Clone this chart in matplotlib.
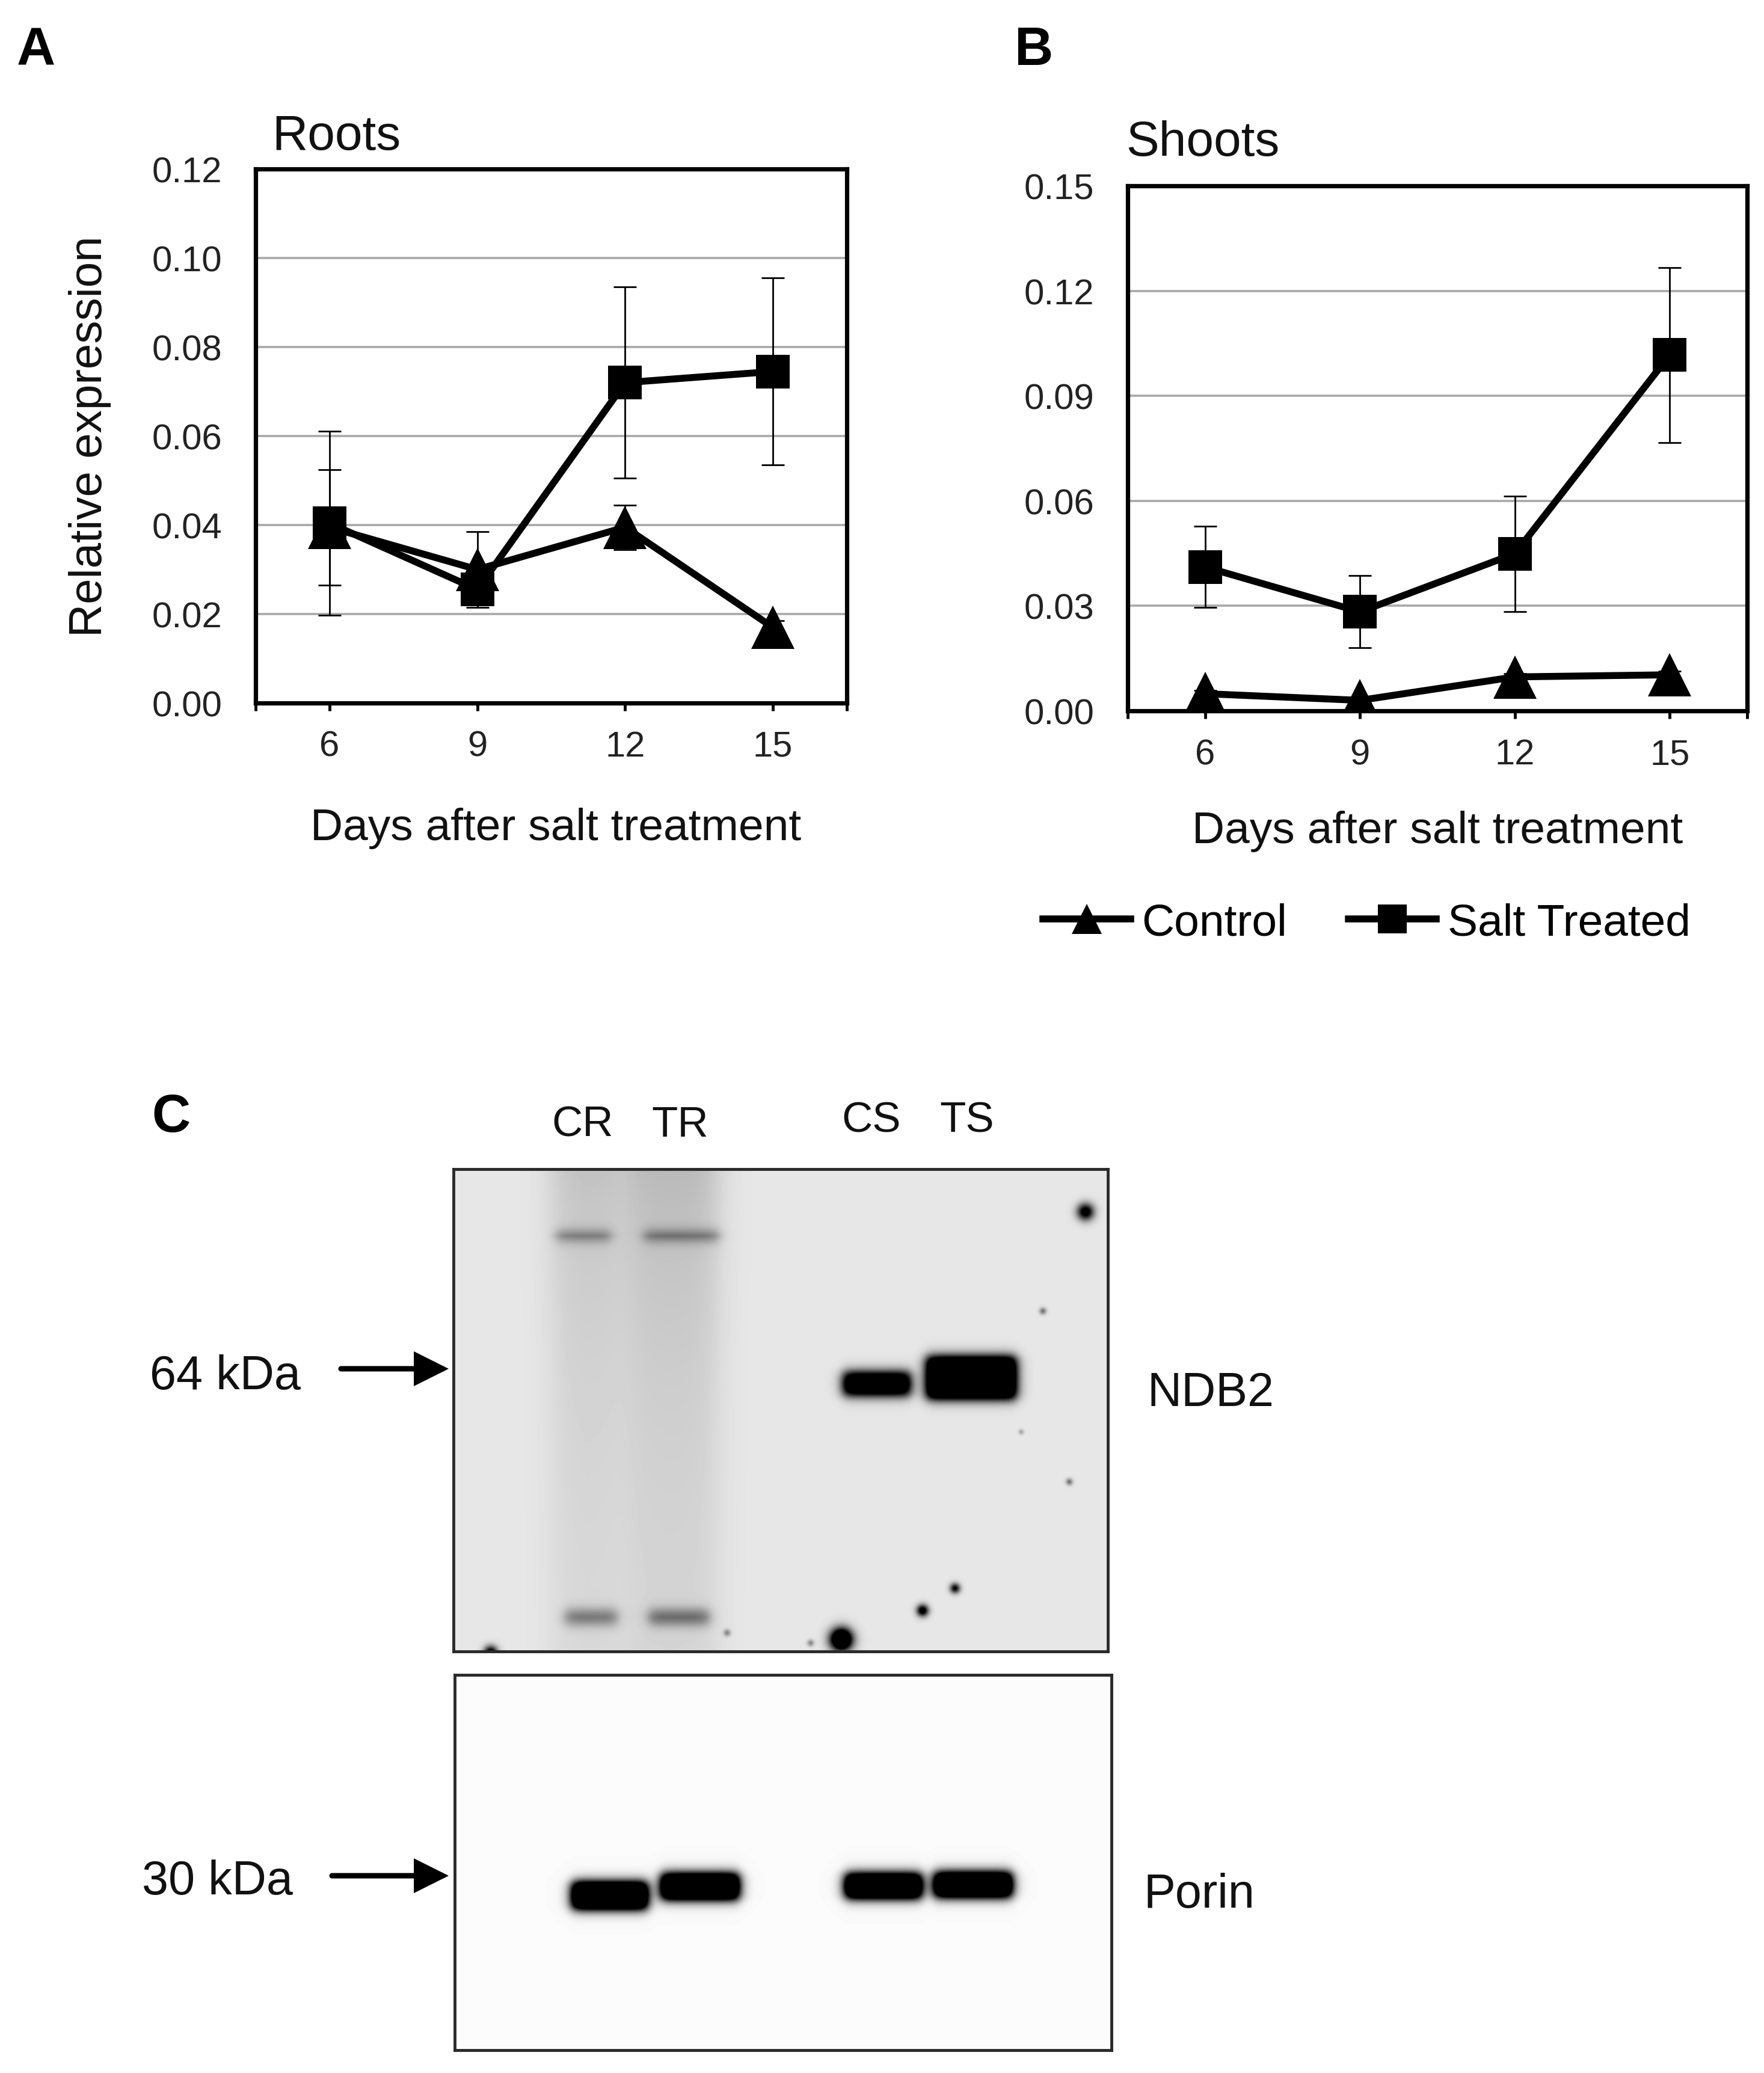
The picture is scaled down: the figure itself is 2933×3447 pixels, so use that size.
import numpy as np
import matplotlib
matplotlib.use('Agg')
import matplotlib.pyplot as plt
from matplotlib.lines import Line2D
from matplotlib.ticker import FormatStrFormatter

plt.rcParams['font.family'] = ['Liberation Sans', 'DejaVu Sans']

# ---------------- data ----------------
days = [6, 9, 12, 15]

roots_control = [0.0395, 0.030, 0.0395, 0.017]
roots_control_err = [0.013, 0.0085, 0.005, 0.0015]
roots_salt = [0.0404, 0.0255, 0.072, 0.0745]
roots_salt_err = [0.0207, 0.003, 0.0215, 0.021]

shoots_control = [0.0049, 0.003, 0.0097, 0.0103]
shoots_control_err = [0.001, 0.001, 0.001, 0.001]
shoots_salt = [0.0411, 0.0283, 0.0449, 0.1017]
shoots_salt_err = [0.0116, 0.0103, 0.0165, 0.025]

roots_yticks = [0.00, 0.02, 0.04, 0.06, 0.08, 0.10, 0.12]
shoots_yticks = [0.00, 0.03, 0.06, 0.09, 0.12, 0.15]

series_names = ['Control', 'Salt Treated']
lane_labels = ['CR', 'TR', 'CS', 'TS']

# Western blot band description (band centre x, band centre y, width, height, intensity)
ndb2_bands_x = [1458, 1615, 970, 1133, 983, 1129]
ndb2_bands_y = [2302, 2292, 2056, 2056, 2690, 2690]
ndb2_bands_w = [112, 150, 90, 124, 86, 100]
ndb2_bands_h = [38, 70, 14, 14, 24, 24]
ndb2_bands_i = [1.6, 1.8, 0.42, 0.45, 0.45, 0.5]
ndb2_smear_x = [976, 1118]
ndb2_smear_w = [116, 150]
ndb2_smear_i = [0.16, 0.20]
ndb2_spots_x = [1805, 1399, 1534, 1588, 816, 1734, 1778, 1698, 1209, 1348]
ndb2_spots_y = [2016, 2727, 2679, 2642, 2749, 2181, 2465, 2382, 2716, 2733]
ndb2_spots_r = [10, 13, 7, 6, 8, 4, 4, 3, 4, 4]
ndb2_spots_i = [1.2, 2.0, 1.2, 1.0, 1.2, 0.5, 0.5, 0.3, 0.4, 0.4]

porin_bands_x = [1014, 1164, 1469, 1618]
porin_bands_y = [3153, 3138, 3137, 3135]
porin_bands_w = [126, 130, 128, 130]
porin_bands_h = [44, 42, 40, 40]
porin_bands_i = [2.0, 2.0, 2.0, 2.0]

# ---------------- figure ----------------
W, H, DPI = 2933, 3448, 100
fig = plt.figure(figsize=(W / DPI, H / DPI), dpi=DPI)
fig.patch.set_facecolor('white')


def add_px_axes(l, t, r, b):
    return fig.add_axes([l / W, 1 - b / H, (r - l) / W, (b - t) / H])


LW = 8.3
TRI_MS = 52
SQ_MS = 41


def draw_panel(ax, ctrl, ctrl_err, salt, salt_err, yticks):
    ax.set_xlim(4.5, 16.5)
    ax.set_ylim(yticks[0], yticks[-1])
    ax.set_yticks(yticks)
    ax.yaxis.set_major_formatter(FormatStrFormatter('%.2f'))
    ax.set_xticks(days)
    ax.set_xticklabels([str(d) for d in days])
    ax.set_xticks([4.5, 16.5], minor=True)
    ax.grid(axis='y', color='#a8a8a8', lw=2.6)
    ax.set_axisbelow(True)
    for sp in ax.spines.values():
        sp.set_linewidth(5.2)
        sp.set_color('black')
        sp.set_zorder(5)
    ax.tick_params(axis='x', which='both', direction='out', length=9.4, width=3.5,
                   pad=23, labelsize=43, colors='black', labelcolor='#222222')
    ax.tick_params(axis='y', length=0, pad=40, labelsize=43, labelcolor='#222222')
    for vals, errs, m, ms in [(ctrl, ctrl_err, '^', TRI_MS), (salt, salt_err, 's', SQ_MS)]:
        ax.errorbar(days, vals, yerr=errs, fmt='none', ecolor='black', elinewidth=2.0,
                    capsize=13.5, capthick=2.0, zorder=3)
        ax.plot(days, vals, color='black', lw=LW, marker=m, ms=ms, mew=0,
                solid_joinstyle='round', zorder=4)
    ax.set_xlabel('Days after salt treatment', fontsize=54, color='#111111')
    ax.xaxis.label.set_va('baseline')


A_L, A_T, A_R, A_B = 425, 282, 1408, 1170
axA = add_px_axes(A_L, A_T, A_R, A_B)
draw_panel(axA, roots_control, roots_control_err, roots_salt, roots_salt_err, roots_yticks)
axA.xaxis.set_label_coords((924 - A_L) / (A_R - A_L), (A_B - 1397) / (A_B - A_T))
axA.set_ylabel('Relative expression', fontsize=55, color='#111111')
axA.yaxis.set_label_coords(-0.244, 0.5)

B_L, B_T, B_R, B_B = 1875, 310, 2905, 1183
axB = add_px_axes(B_L, B_T, B_R, B_B)
draw_panel(axB, shoots_control, shoots_control_err, shoots_salt, shoots_salt_err, shoots_yticks)
axB.xaxis.set_label_coords((2390 - B_L) / (B_R - B_L), (B_B - 1402) / (B_B - B_T))

handles = [Line2D([], [], color='black', lw=LW, marker='^', ms=36, mew=0),
           Line2D([], [], color='black', lw=LW, marker='s', ms=34, mew=0)]
fig.legend(handles, series_names, loc='center', bbox_to_anchor=(2272 / W, 1 - 1536 / H),
           ncol=2, frameon=False, fontsize=54, handlelength=1.95, handletextpad=0.25,
           columnspacing=1.35, borderaxespad=0, borderpad=0)

# ---------------- western blot ----------------
def soft_box(X, Y, cx, cy, w, h, s):
    fx = 1.0 / (1.0 + np.exp((np.abs(X - cx) - w / 2.0) / s))
    fy = 1.0 / (1.0 + np.exp((np.abs(Y - cy) - h / 2.0) / s))
    return fx * fy


def blot_axes(l, t, r, b, bg, bands, smears=None, spots=None):
    ax = add_px_axes(l, t, r, b)
    xs = np.arange(l, r) + 0.5
    ys = np.arange(t, b) + 0.5
    X, Y = np.meshgrid(xs, ys)
    dark = np.zeros_like(X)
    if smears is not None:
        for cx, w, inten in zip(*smears):
            fx = 1.0 / (1.0 + np.exp((np.abs(X - cx) - w / 2.0) / 14.0))
            fy = 0.35 + 0.65 * np.exp(-(Y - t) / 320.0)
            dark += inten * fx * fy
    for cx, cy, w, h, inten in zip(*bands):
        dark += inten * soft_box(X, Y, cx, cy, w, h, 5.5)
    if spots is not None:
        for cx, cy, r, inten in zip(*spots):
            dark += inten * np.exp(-((X - cx) ** 2 + (Y - cy) ** 2) / (2.0 * r ** 2))
    img = bg * (1.0 - np.clip(dark, 0, 1))
    ax.imshow(img, cmap='gray', vmin=0, vmax=1, extent=(l, r, b, t),
              interpolation='bilinear', aspect='auto')
    ax.set_xlim(l, r)
    ax.set_ylim(b, t)
    ax.set_xticks([])
    ax.set_yticks([])
    for sp in ax.spines.values():
        sp.set_linewidth(3.5)
        sp.set_color('#2a2a2a')
    return ax


blot_axes(754, 1945, 1842, 2747, 0.905,
          (ndb2_bands_x, ndb2_bands_y, ndb2_bands_w, ndb2_bands_h, ndb2_bands_i),
          smears=(ndb2_smear_x, ndb2_smear_w, ndb2_smear_i),
          spots=(ndb2_spots_x, ndb2_spots_y, ndb2_spots_r, ndb2_spots_i))
blot_axes(756, 2786, 1848, 3410, 0.985,
          (porin_bands_x, porin_bands_y, porin_bands_w, porin_bands_h, porin_bands_i))

# ---------------- overlay for annotations ----------------
ov = fig.add_axes([0, 0, 1, 1], facecolor='none')
ov.set_xlim(0, W)
ov.set_ylim(H, 0)
ov.axis('off')

ov.text(28, 109, 'A', fontsize=64, fontweight='bold', ha='left', va='baseline')
ov.text(1687, 108, 'B', fontsize=64, fontweight='bold', ha='left', va='baseline')
ov.text(252, 1882, 'C', fontsize=64, fontweight='bold', ha='left', va='baseline')

ov.text(452, 249, 'Roots', fontsize=59, ha='left', va='baseline', color='#111111')
ov.text(1872, 259, 'Shoots', fontsize=59, ha='left', va='baseline', color='#111111')

lane_x = [969, 1131, 1449, 1608]
lane_base = [1890, 1890, 1883, 1883]
for lx, lb, lab in zip(lane_x, lane_base, lane_labels):
    ov.text(lx, lb, lab, fontsize=51, ha='center', va='baseline', color='#111111')

ov.text(249, 2310, '64 kDa', fontsize=57, ha='left', va='baseline', color='#111111')
ov.text(236, 3150, '30 kDa', fontsize=57, ha='left', va='baseline', color='#111111')
ov.text(1908, 2338, 'NDB2', fontsize=57, ha='left', va='baseline', color='#111111')
ov.text(1902, 3172, 'Porin', fontsize=57, ha='left', va='baseline', color='#111111')

arrow_kw = dict(arrowstyle='-|>,head_length=0.78,head_width=0.39', lw=6.5, color='black',
                mutation_scale=40, shrinkA=0, shrinkB=0, joinstyle='miter')
ov.annotate('', xy=(746, 2277), xytext=(567, 2277), arrowprops=arrow_kw)
ov.annotate('', xy=(746, 3120), xytext=(552, 3120), arrowprops=arrow_kw)

fig.savefig('out.png', dpi=DPI, facecolor='white')
